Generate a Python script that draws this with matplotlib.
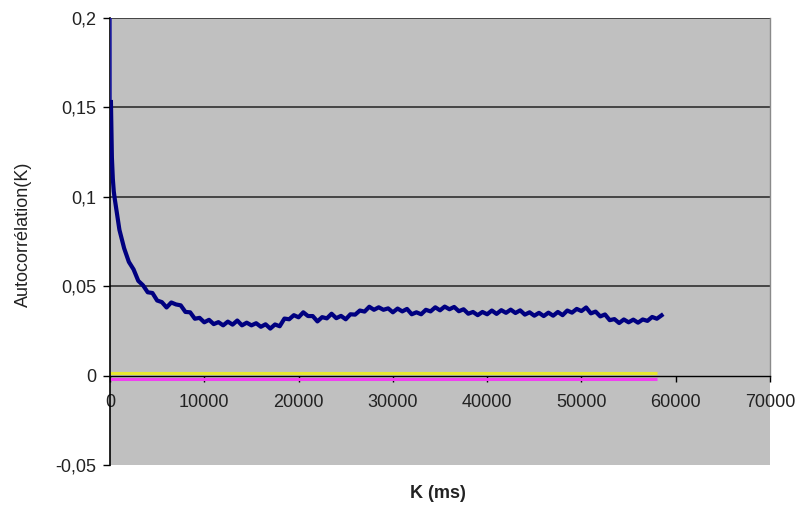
import matplotlib
matplotlib.use("Agg")
import matplotlib.pyplot as plt
from matplotlib.ticker import FuncFormatter

plt.rcParams['font.family'] = ['Liberation Sans', 'DejaVu Sans']

# ---- data ----
lag_head = [0, 100, 200, 300, 400]
acf_head = [1.0, 0.153, 0.122, 0.110, 0.103]

lag_step = list(range(500, 58501, 500))
acf_body = [
    0.0990, 0.0815, 0.0712, 0.0636, 0.0594, 0.0530, 0.0505, 0.0466, 0.0462, 0.0420,
    0.0411, 0.0381, 0.0409, 0.0398, 0.0393, 0.0356, 0.0354, 0.0318, 0.0323, 0.0298,
    0.0312, 0.0288, 0.0299, 0.0281, 0.0302, 0.0285, 0.0308, 0.0281, 0.0296, 0.0281,
    0.0293, 0.0273, 0.0287, 0.0263, 0.0286, 0.0276, 0.0319, 0.0315, 0.0338, 0.0326,
    0.0354, 0.0333, 0.0333, 0.0303, 0.0327, 0.0320, 0.0346, 0.0321, 0.0334, 0.0315,
    0.0343, 0.0341, 0.0364, 0.0358, 0.0385, 0.0368, 0.0382, 0.0368, 0.0376, 0.0354,
    0.0375, 0.0359, 0.0373, 0.0343, 0.0354, 0.0343, 0.0368, 0.0359, 0.0382, 0.0365,
    0.0386, 0.0371, 0.0384, 0.0360, 0.0371, 0.0346, 0.0356, 0.0338, 0.0356, 0.0343,
    0.0364, 0.0345, 0.0366, 0.0351, 0.0369, 0.0350, 0.0365, 0.0341, 0.0354, 0.0335,
    0.0351, 0.0333, 0.0352, 0.0335, 0.0356, 0.0338, 0.0364, 0.0352, 0.0373, 0.0361,
    0.0381, 0.0348, 0.0358, 0.0331, 0.0342, 0.0310, 0.0316, 0.0294, 0.0314, 0.0298,
    0.0313, 0.0296, 0.0314, 0.0306, 0.0328, 0.0318, 0.0337,
]

lags = lag_head + lag_step
acf = acf_head + acf_body

conf_x = [0, 58000]
conf_upper = [0.0015, 0.0015]
conf_lower = [-0.0020, -0.0020]

x_ticks = [0, 10000, 20000, 30000, 40000, 50000, 60000, 70000]
y_ticks = [-0.05, 0, 0.05, 0.1, 0.15, 0.2]
grid_levels = [0.05, 0.1, 0.15, 0.2]

# ---- figure ----
fig = plt.figure(figsize=(8.0, 5.08), dpi=100)
ax = fig.add_axes([110 / 800, 1 - 465 / 508, 660 / 800, 447 / 508])
ax.set_facecolor('#C0C0C0')

for g in grid_levels:
    ax.axhline(g, color='#3a3a3a', lw=1.3, zorder=1)

ax.plot(conf_x, conf_upper, color='#E8E830', lw=2.2, zorder=2, solid_capstyle='butt')
ax.plot(conf_x, conf_lower, color='#F040F0', lw=2.2, zorder=2, solid_capstyle='butt')
# lag-0 spike drawn thin, rest of the series thicker (as in the original)
ax.plot(lags[:2], acf[:2], color='#1a1aa0', lw=1.2, zorder=3)
ax.plot(lags[1:], acf[1:], color='#000080', lw=3.0, zorder=3)

ax.set_xlim(0, 70000)
ax.set_ylim(-0.05, 0.2)

ax.spines['bottom'].set_position(('data', 0))
ax.spines['bottom'].set_color('black')
ax.spines['bottom'].set_linewidth(1.0)
ax.spines['left'].set_color('black')
ax.spines['left'].set_linewidth(1.2)
ax.spines['top'].set_visible(False)
ax.spines['right'].set_color('#8a8a8a')
ax.spines['right'].set_linewidth(1.0)
ax.spines['right'].set_bounds(0, 0.2)

ax.set_xticks(x_ticks)
ax.set_yticks(y_ticks)
ax.xaxis.set_major_formatter(FuncFormatter(lambda v, p: f"{int(v)}"))
ax.yaxis.set_major_formatter(FuncFormatter(lambda v, p: ("0" if abs(v) < 1e-12 else f"{v:g}".replace('.', ','))))
ax.tick_params(axis='x', direction='out', length=4, width=1, pad=9, labelsize=13, colors='black', labelcolor='#222222')
ax.tick_params(axis='y', direction='out', length=5, width=1, pad=5, labelsize=13, colors='black', labelcolor='#222222')

ax.set_ylabel('Autocorrélation(K)', fontsize=13, color='#222222')
ax.yaxis.set_label_coords(-0.118, 0.515)
fig.text(438 / 800, 1 - 493 / 508, 'K (ms)', ha='center', va='center', fontsize=13, fontweight='bold', color='#222222')

fig.savefig('out.png', dpi=100)
